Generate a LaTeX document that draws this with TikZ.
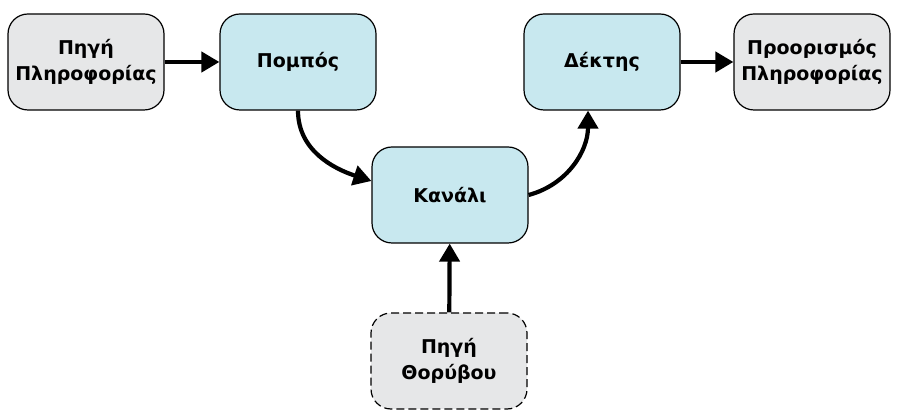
\documentclass[tikz,border=0pt]{standalone}
\usepackage{fontspec}
\setmainfont{DejaVu Sans}
\usetikzlibrary{arrows.meta}

\definecolor{boxblue}{HTML}{C8E8EF}
\definecolor{boxgray}{HTML}{E6E7E8}

\tikzset{
    unit/.style={draw=black, line width=1.2pt, rounded corners=20pt,
        minimum width=156pt, minimum height=96pt, align=center,
        font=\fontsize{19}{25.5}\selectfont\bfseries},
    stage/.style={unit, fill=boxblue},
    endpoint/.style={unit, fill=boxgray},
    noisy/.style={endpoint, dash pattern=on 8pt off 4pt},
    flow/.style={line width=4.2pt, -{Triangle[length=18pt,width=20pt]}}
}

\begin{document}
\begin{tikzpicture}[x=1pt, y=1pt]
    \useasboundingbox (0,0) rectangle (901,417);

    % sources and sinks of the message
    \node[endpoint] (source) at (86, 355) {Πηγή\\Πληροφορίας};
    \node[stage] (sender) at (298, 355) {Πομπός};
    \node[stage] (channel) at (450, 222) {Κανάλι};
    \node[stage] (receiver) at (602, 355) {Δέκτης};
    \node[endpoint] (target) at (812, 355) {Προορισμός\\Πληροφορίας};

    % interference
    \node[noisy] (noise) at (449, 56) {Πηγή\\Θορύβου};

    \draw[flow] (source) -- (sender);
    \draw[flow] (sender.south) to[out=-90, in=162] ([yshift=14pt]channel.west);
    \draw[flow] (channel.east) to[out=15, in=-90] ([xshift=-14pt]receiver.south);
    \draw[flow] (receiver) -- (target);
    \draw[flow] (noise) -- (channel);
\end{tikzpicture}
\end{document}
